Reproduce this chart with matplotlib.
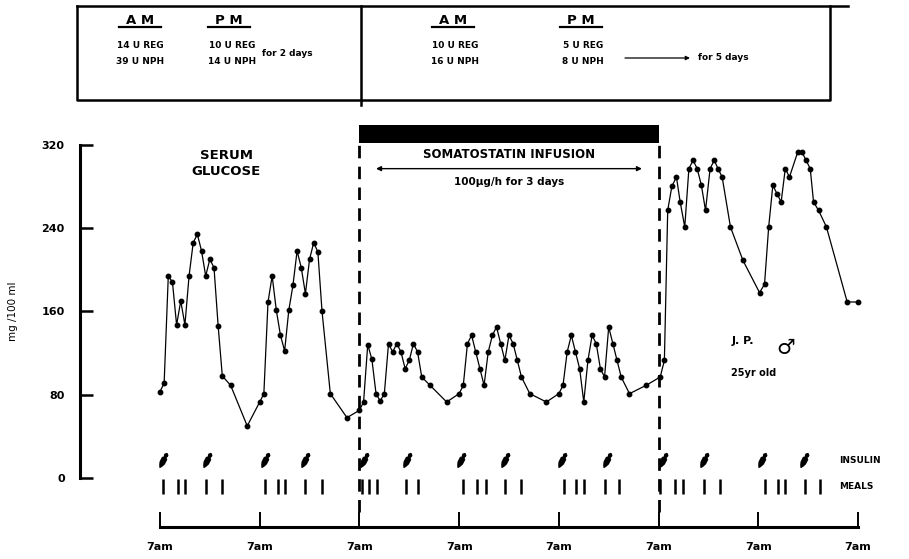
import numpy as np
import matplotlib.pyplot as plt

plt.rcParams['font.family'] = ['DejaVu Sans']
plt.rcParams['font.weight'] = 'bold'

# serum glucose (mg/100 ml), time in hours after the first 7am
glucose_hours = [0, 1, 2, 3, 4, 5, 6, 7, 8, 9, 10, 11, 12, 13, 14, 15, 17, 21,
                 24, 25, 26, 27, 28, 29, 30, 31, 32, 33, 34, 35, 36, 37, 38, 39, 41, 45,
                 48, 49, 50, 51, 52, 53, 54, 55, 56, 57, 58, 59, 60, 61, 62, 63, 65, 69,
                 72, 73, 74, 75, 76, 77, 78, 79, 80, 81, 82, 83, 84, 85, 86, 87, 89, 93,
                 96, 97, 98, 99, 100, 101, 102, 103, 104, 105, 106, 107, 108, 109, 110, 111, 113, 117,
                 120.4, 121.4, 122.2, 123.2, 124.3, 125.2, 126.3, 127.3, 128.3, 129.3, 130.3, 131.3,
                 132.4, 133.4, 134.3, 135.3, 137.3, 140.3,
                 144.3, 145.5, 146.5, 147.5, 148.5, 149.5, 150.5, 151.5, 153.5, 154.5, 155.5, 156.5,
                 157.3, 158.5, 160.4, 165.4, 168]
glucose_values = [83, 91, 194, 188, 147, 170, 147, 194, 226, 234, 218, 194, 210, 202, 146, 98, 89, 50,
                  73, 81, 169, 194, 161, 137, 122, 161, 185, 218, 202, 177, 210, 226, 217, 160, 81, 58,
                  65, 73, 128, 114, 81, 74, 81, 129, 121, 129, 121, 105, 113, 129, 121, 97, 89, 73,
                  81, 89, 129, 137, 121, 105, 89, 121, 137, 145, 129, 113, 137, 129, 113, 97, 81, 73,
                  81, 89, 121, 137, 121, 105, 73, 113, 137, 129, 105, 97, 145, 129, 113, 97, 81, 89,
                  97, 113, 257, 280, 289, 265, 241, 297, 305, 297, 281, 257,
                  297, 305, 297, 289, 241, 209,
                  178, 186, 241, 281, 273, 265, 297, 289, 313, 313, 305, 297,
                  265, 257, 241, 169, 169]

insulin_hours = [0.7, 11.3, 25.2, 34.8, 49.2, 59.5, 72.5, 83.0,
                 96.7, 107.5, 121.0, 131.0, 145.0, 155.0]
meal_hours = [0.7, 4.3, 6.0, 11.0, 14.9,
              25.2, 28.3, 30.0, 34.8, 39.1,
              48.6, 50.4, 52.3, 59.3, 62.2,
              73.0, 76.3, 78.5, 83.0, 86.9,
              97.2, 100.1, 102.0, 107.0, 110.4,
              120.4, 123.9, 125.9, 130.9, 134.8,
              145.7, 148.8, 150.5, 155.3, 158.9]

day_ticks = [0, 24, 48, 72, 96, 120, 144, 168]
day_labels = ['7am'] * len(day_ticks)
glucose_ticks = [0, 80, 160, 240, 320]

infusion_start = 48
infusion_end = 120


def pen_marker(angle=63):
    # tilted syringe glyph: thin tail, thick barrel, round head
    u = np.linspace(-1, 1, 21)
    w = np.interp(u, [-1, -0.75, -0.35, 0.3, 0.45, 0.6, 0.8, 1.0],
                  [0.04, 0.2, 0.36, 0.36, 0.16, 0.26, 0.26, 0.05])
    uu = np.concatenate([u, u[::-1]])
    vv = np.concatenate([w, -w[::-1]])
    a = np.deg2rad(angle)
    return np.column_stack([uu * np.cos(a) - vv * np.sin(a), uu * np.sin(a) + vv * np.cos(a)])


W, H = 909, 559
fig = plt.figure(figsize=(W / 100, H / 100), dpi=100)
fig.patch.set_facecolor('white')

ax = fig.add_axes([80 / W, (H - 527) / H, 810 / W, (527 - 120) / H])
ax.set_xlim(-19.25, 175.7)
ax.set_ylim(-47, 343.7)

ax.plot(glucose_hours, glucose_values, color='black', lw=0.9, marker='o', ms=3.2, zorder=3)

# insulin doses and meals below the curve
ax.plot(insulin_hours, [17] * len(insulin_hours), ls='none', color='black',
        marker=pen_marker(), ms=11, mew=0)
ax.vlines(meal_hours, -15, -1, color='black', lw=1.8)

# somatostatin infusion period
ax.barh(330.5, infusion_end - infusion_start, left=infusion_start, height=17, color='black')
ax.vlines([infusion_start, infusion_end], -33, 322, color='black', lw=2.0,
          linestyles=(0, (4.5, 3)))
ax.annotate('', xy=(infusion_start + 4, 297), xytext=(infusion_end - 4, 297),
            arrowprops=dict(arrowstyle='<|-|>', color='black', lw=1.0,
                            mutation_scale=7, shrinkA=0, shrinkB=0))
mid = (infusion_start + infusion_end) / 2
ax.text(mid, 311, 'SOMATOSTATIN INFUSION', ha='center', va='center', fontsize=8.5)
ax.text(mid, 284, '100\u00b5g/h for 3 days', ha='center', va='center', fontsize=7.5)

ax.text(16, 302, 'SERUM\nGLUCOSE', ha='center', va='center', fontsize=9.5,
        linespacing=1.25)
ax.text(137.5, 132, 'J. P.', ha='left', va='center', fontsize=8)
ax.text(150.5, 125, '\u2642', ha='center', va='center', fontsize=15)
ax.text(137.5, 101, '25yr old', ha='left', va='center', fontsize=7)
ax.text(163.5, 17, 'INSULIN', ha='left', va='center', fontsize=6.5)
ax.text(163.5, -8, 'MEALS', ha='left', va='center', fontsize=6.5)

for s in ['top', 'right']:
    ax.spines[s].set_visible(False)
ax.spines['left'].set_bounds(0, 320)
ax.spines['left'].set_linewidth(2.2)
ax.spines['bottom'].set_bounds(0, 168)
ax.spines['bottom'].set_linewidth(2.2)

ax.set_yticks(glucose_ticks)
ax.set_yticklabels([str(t) for t in glucose_ticks])
ax.set_xticks(day_ticks)
ax.set_xticklabels(day_labels)
ax.tick_params(axis='y', direction='in', length=9.5, width=1.8, pad=11, labelsize=8)
ax.tick_params(axis='x', direction='in', length=11, width=1.4, pad=11, labelsize=8)
ax.set_ylabel('mg /100 ml', fontsize=7.5)
ax.yaxis.set_label_coords(-0.077, 0.53)
ax.patch.set_alpha(0)

# insulin dosage table along the top
tb = fig.add_axes([0, 0, 1, 1])
tb.set_xlim(0, W)
tb.set_ylim(H, 0)
tb.axis('off')
tb.plot([77, 77, 830, 830], [6, 100, 100, 6], color='black', lw=1.8)
tb.plot([77, 848], [6, 6], color='black', lw=1.8)
tb.plot([361, 361], [6, 105], color='black', lw=1.8)

for x, word in [(140, 'A M'), (229, 'P M'), (453, 'A M'), (581, 'P M')]:
    tb.text(x, 20, word, ha='center', va='center', fontsize=9.5)
    tb.plot([x - 21, x + 21], [27, 27], color='black', lw=1.6)

for x, top, bottom in [(140, '14 U REG', '39 U NPH'), (232, '10 U REG', '14 U NPH'),
                       (455, '10 U REG', '16 U NPH'), (583, '5 U REG', '8 U NPH')]:
    tb.text(x, 45, top, ha='center', va='center', fontsize=6.5)
    tb.text(x, 62, bottom, ha='center', va='center', fontsize=6.5)

tb.text(262, 53, 'for 2 days', ha='left', va='center', fontsize=6.5)
tb.annotate('', xy=(690, 58), xytext=(625, 58),
            arrowprops=dict(arrowstyle='-|>', color='black', lw=0.9,
                            mutation_scale=6, shrinkA=0, shrinkB=0))
tb.text(698, 58, 'for 5 days', ha='left', va='center', fontsize=6.5)

fig.savefig('out.png', dpi=100)
